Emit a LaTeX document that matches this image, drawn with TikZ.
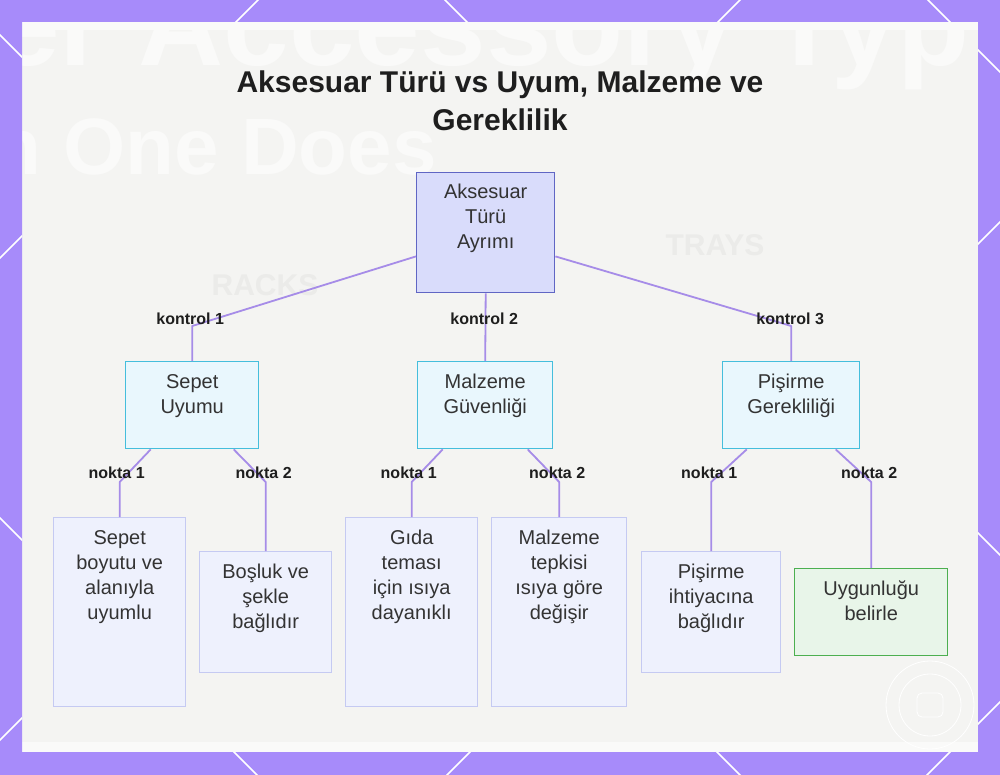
\documentclass[tikz,border=0pt]{standalone}
\usepackage{fontspec}
\setmainfont{Liberation Sans}
\usetikzlibrary{calc}
\definecolor{bgpurple}{HTML}{A78BFA}
\definecolor{panelbg}{HTML}{F4F4F2}
\definecolor{ghostwhite}{HTML}{FAFAF9}
\definecolor{edgec}{HTML}{A68CE8}
\definecolor{rootfill}{HTML}{D9DCFB}
\definecolor{rootdraw}{HTML}{6066C4}
\definecolor{midfill}{HTML}{E9F7FD}
\definecolor{middraw}{HTML}{45BEDC}
\definecolor{leaffill}{HTML}{EEF1FD}
\definecolor{leafdraw}{HTML}{C5CAF2}
\definecolor{okfill}{HTML}{E8F5E9}
\definecolor{okdraw}{HTML}{4CAF50}
\definecolor{txt}{HTML}{333333}
\definecolor{ttl}{HTML}{1E1E1E}
\definecolor{ghostgray}{HTML}{EBEBE9}
\newcommand\boxtxt[4]{\parbox[t][#2pt][t]{#1pt}{\centering\rule{0pt}{#3pt}#4}}
\tikzset{
  boxbase/.style={rectangle, inner sep=0pt, anchor=north west, line width=1.4pt,
    text=txt, font=\fontsize{20}{25}\selectfont},
  rootbox/.style={boxbase, fill=rootfill, draw=rootdraw},
  midbox/.style={boxbase, fill=midfill, draw=middraw},
  leafbox/.style={boxbase, fill=leaffill, draw=leafdraw},
  okbox/.style={boxbase, fill=okfill, draw=okdraw},
  edge/.style={draw=edgec, line width=1.8pt, line join=round},
  lbl/.style={font=\fontsize{16}{18}\selectfont\bfseries, text=ttl, inner sep=0pt},
  ghost/.style={text=ghostwhite, inner sep=0pt, anchor=base west},
  deco/.style={draw=white, line width=1.5pt}
}
\begin{document}
\begin{tikzpicture}[x=1pt,y=-1pt]
\useasboundingbox (0,0) rectangle (1000,775);
% panel with faint photo
\fill[panelbg] (22,22) rectangle (978,752);
\begin{scope}
\clip (22,22) rectangle (978,752);
\fill[white, opacity=0.6] (22,22) rectangle (978,30);
\fill[white, opacity=0.6] (22,742) rectangle (978,752);
\node[ghost, font=\fontsize{118}{118}\selectfont\bfseries] (g1) at (-6,66) {er Accessory Typ};
\node[ghost, font=\fontsize{80}{80}\selectfont\bfseries] (g2) at (-8,175) {n One Does};
\node[text=ghostgray, font=\fontsize{30}{30}\selectfont\bfseries, inner sep=0pt] (g3) at (265,285) {RACKS};
\node[text=ghostgray, font=\fontsize{30}{30}\selectfont\bfseries, inner sep=0pt] (g4) at (715,245) {TRAYS};
\node[circle, draw=white, line width=0.8pt, minimum size=88pt] (g5) at (930,705) {};
\node[circle, draw=white, line width=0.8pt, minimum size=62pt] (g6) at (930,705) {};
\node[rectangle, rounded corners=5pt, draw=white, line width=0.8pt, minimum width=26pt, minimum height=24pt] (g7) at (930,705) {};
\end{scope}
% frame drawn over the panel edges
\fill[bgpurple, even odd rule] (0,0) rectangle (1000,775) (22,22) rectangle (978,752);
\foreach \bx/\by/\ex/\ey in {0/0/1000/22, 0/752/1000/775, 0/0/22/775, 978/0/1000/775}{
  \begin{scope}
  \clip (\bx,\by) rectangle (\ex,\ey);
  \foreach \c in {-928,-445,35,518} \draw[deco] (-100,-100+\c) -- (1100,1100+\c);
  \foreach \c in {258,740,1222,1702} \draw[deco] (-100,100+\c) -- (1100,\c-1100);
  \end{scope}
}
% title
\node[font=\fontsize{30}{38}\selectfont\bfseries, text=ttl, align=center] (title) at (500,101) {Aksesuar Türü vs Uyum, Malzeme ve\\Gereklilik};
% boxes
\node[rootbox] (root) at (416,172) {\boxtxt{138}{120}{26}{Aksesuar\\Türü\\Ayrımı}};
\node[midbox] (sepet) at (125,361) {\boxtxt{133}{87}{27}{Sepet\\Uyumu}};
\node[midbox] (malz) at (417,361) {\boxtxt{135}{87}{27}{Malzeme\\Güvenliği}};
\node[midbox] (pis) at (722,361) {\boxtxt{137}{87}{27}{Pişirme\\Gerekliliği}};
\node[leafbox] (l1) at (53,517) {\boxtxt{132}{189}{27}{Sepet\\boyutu ve\\alanıyla\\uyumlu}};
\node[leafbox] (l2) at (199,551) {\boxtxt{132}{121}{27}{Boşluk ve\\şekle\\bağlıdır}};
\node[leafbox] (l3) at (345,517) {\boxtxt{132}{189}{27}{Gıda\\teması\\için ısıya\\dayanıklı}};
\node[leafbox] (l4) at (491,517) {\boxtxt{135}{189}{27}{Malzeme\\tepkisi\\ısıya göre\\değişir}};
\node[leafbox] (l5) at (641,551) {\boxtxt{139}{121}{27}{Pişirme\\ihtiyacına\\bağlıdır}};
\node[okbox] (l6) at (794,568) {\boxtxt{153}{87}{27}{Uygunluğu\\belirle}};
% level 1 edges
\draw[edge] ($(root.south west)+(0,-37)$) -- ($(sepet.north)+(0,-35)$) -- (sepet.north);
\draw[edge] (root.south) -- (malz.north);
\draw[edge] ($(root.south east)+(0,-37)$) -- ($(pis.north)+(0,-35)$) -- (pis.north);
\node[lbl] (k1) at ($(sepet.north)+(-2,-42)$) {kontrol 1};
\node[lbl] (k2) at ($(malz.north)+(-1,-42)$) {kontrol 2};
\node[lbl] (k3) at ($(pis.north)+(-1,-42)$) {kontrol 3};
% level 2 edges
\draw[edge] ($(sepet.south)+(-41.5,0)$) -- ($(l1.north)+(0,-35)$) -- (l1.north);
\draw[edge] ($(sepet.south)+(41.5,0)$) -- ($(l2.north)+(0,-69)$) -- (l2.north);
\draw[edge] ($(malz.south)+(-42.5,0)$) -- ($(l3.north)+(0,-35)$) -- (l3.north);
\draw[edge] ($(malz.south)+(42.5,0)$) -- ($(l4.north)+(0,-35)$) -- (l4.north);
\draw[edge] ($(pis.south)+(-44.5,0)$) -- ($(l5.north)+(0,-69)$) -- (l5.north);
\draw[edge] ($(pis.south)+(44.5,0)$) -- ($(l6.north)+(0,-86)$) -- (l6.north);
\node[lbl] (n1) at ($(l1.north)+(-3,-44)$) {nokta 1};
\node[lbl] (n2) at ($(l2.north)+(-2,-78)$) {nokta 2};
\node[lbl] (n3) at ($(l3.north)+(-3,-44)$) {nokta 1};
\node[lbl] (n4) at ($(l4.north)+(-2,-44)$) {nokta 2};
\node[lbl] (n5) at ($(l5.north)+(-2,-78)$) {nokta 1};
\node[lbl] (n6) at ($(l6.north)+(-2,-95)$) {nokta 2};
\end{tikzpicture}
\end{document}
